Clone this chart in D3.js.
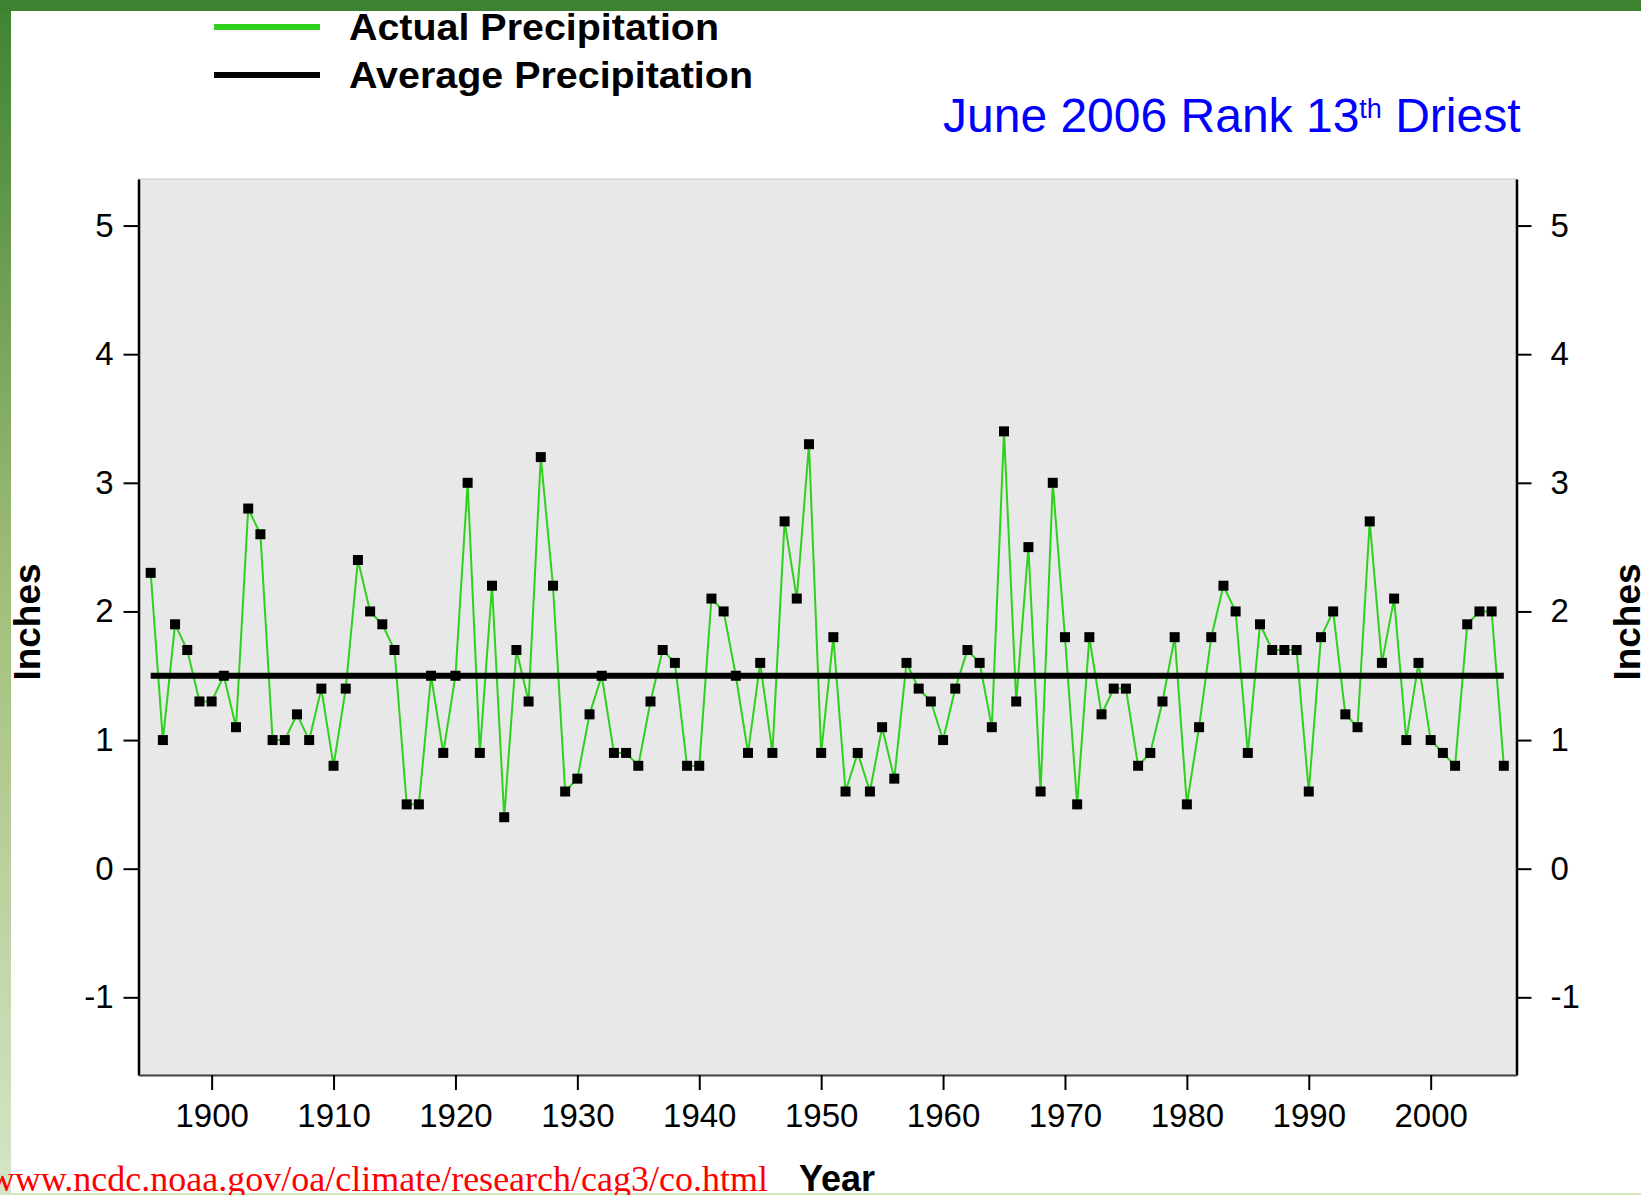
<!DOCTYPE html>
<html lang="en">
<head>
<meta charset="utf-8">
<script src="https://d3js.org/d3.v7.min.js"></script>
<style>
body { margin: 0; background: #fff; }
svg { display: block; }
</style>
</head>
<body>
<script>

// June precipitation, inches
var years = [1895,1896,1897,1898,1899,1900,1901,1902,1903,1904,
  1905,1906,1907,1908,1909,1910,1911,1912,1913,1914,
  1915,1916,1917,1918,1919,1920,1921,1922,1923,1924,
  1925,1926,1927,1928,1929,1930,1931,1932,1933,1934,
  1935,1936,1937,1938,1939,1940,1941,1942,1943,1944,
  1945,1946,1947,1948,1949,1950,1951,1952,1953,1954,
  1955,1956,1957,1958,1959,1960,1961,1962,1963,1964,
  1965,1966,1967,1968,1969,1970,1971,1972,1973,1974,
  1975,1976,1977,1978,1979,1980,1981,1982,1983,1984,
  1985,1986,1987,1988,1989,1990,1991,1992,1993,1994,
  1995,1996,1997,1998,1999,2000,2001,2002,2003,2004,
  2005,2006];

var precip = [2.3,1.0,1.9,1.7,1.3,1.3,1.5,1.1,2.8,2.6,
  1.0,1.0,1.2,1.0,1.4,0.8,1.4,2.4,2.0,1.9,
  1.7,0.5,0.5,1.5,0.9,1.5,3.0,0.9,2.2,0.4,
  1.7,1.3,3.2,2.2,0.6,0.7,1.2,1.5,0.9,0.9,
  0.8,1.3,1.7,1.6,0.8,0.8,2.1,2.0,1.5,0.9,
  1.6,0.9,2.7,2.1,3.3,0.9,1.8,0.6,0.9,0.6,
  1.1,0.7,1.6,1.4,1.3,1.0,1.4,1.7,1.6,1.1,
  3.4,1.3,2.5,0.6,3.0,1.8,0.5,1.8,1.2,1.4,
  1.4,0.8,0.9,1.3,1.8,0.5,1.1,1.8,2.2,2.0,
  0.9,1.9,1.7,1.7,1.7,0.6,1.8,2.0,1.2,1.1,
  2.7,1.6,2.1,1.0,1.6,1.0,0.9,0.8,1.9,2.0,
  2.0,0.8];

var average = 1.5;

var yTicks = [-1, 0, 1, 2, 3, 4, 5];
var xTicks = [1900, 1910, 1920, 1930, 1940, 1950, 1960, 1970, 1980, 1990, 2000];
var legendLabels = ["Actual Precipitation", "Average Precipitation"];
var legendColors = ["#2ed11e", "#000"];

var W = 1641, H = 1195;
var green = "#2ed11e";
var font = "'Liberation Sans', Arial, Helvetica, sans-serif";

var svg = d3.select("body").append("svg")
  .attr("width", W)
  .attr("height", H);

// page decoration: green bars
var defs = svg.append("defs");
var grad = defs.append("linearGradient")
  .attr("id", "sidebar")
  .attr("x1", 0).attr("y1", 0).attr("x2", 0).attr("y2", 1);
grad.append("stop").attr("offset", "0").attr("stop-color", "#3e8330");
grad.append("stop").attr("offset", "0.15").attr("stop-color", "#5c9447");
grad.append("stop").attr("offset", "0.5").attr("stop-color", "#a3bf7b");
grad.append("stop").attr("offset", "1").attr("stop-color", "#d6e5c7");

svg.append("rect").attr("width", W).attr("height", H).attr("fill", "#fff");
svg.append("rect").attr("x", 0).attr("y", 0).attr("width", 11).attr("height", H).attr("fill", "url(#sidebar)");
svg.append("rect").attr("x", 0).attr("y", 0).attr("width", W).attr("height", 11).attr("fill", "#3d8230");
svg.append("rect").attr("x", 0).attr("y", H - 2).attr("width", W).attr("height", 2).attr("fill", "#d3e6c0");

// scales (plot box edges)
var pLeft = 138.5, pRight = 1516.5, pTop = 179, pBottom = 1075;
var x = d3.scaleLinear().domain([1894, 2007.04]).range([pLeft, pRight]);
var y = d3.scaleLinear().domain([-1.604, 5.362]).range([pBottom, pTop]);

// plot panel
svg.append("rect")
  .attr("x", pLeft).attr("y", pTop)
  .attr("width", pRight - pLeft).attr("height", pBottom - pTop)
  .attr("fill", "#e8e8e8")
  .attr("stroke", "#c8c8c8")
  .attr("stroke-width", 1);

function styleAxis(g) {
  g.selectAll("path.domain").attr("stroke", "#000").attr("stroke-width", 2.5);
  g.selectAll(".tick line").attr("stroke", "#000").attr("stroke-width", 2);
  g.selectAll(".tick text")
    .attr("fill", "#000")
    .style("font-family", font)
    .style("font-size", "33px");
}

var yAxisL = svg.append("g")
  .attr("transform", "translate(" + pLeft + ",0)")
  .call(d3.axisLeft(y).tickValues(yTicks).tickSize(15).tickSizeOuter(0).tickPadding(10)
    .tickFormat(function(d) { return String(d); }));
styleAxis(yAxisL);

var yAxisR = svg.append("g")
  .attr("transform", "translate(" + pRight + ",0)")
  .call(d3.axisRight(y).tickValues(yTicks).tickSize(15).tickSizeOuter(0).tickPadding(19)
    .tickFormat(function(d) { return String(d); }));
styleAxis(yAxisR);

var xAxis = svg.append("g")
  .attr("transform", "translate(0," + pBottom + ")")
  .call(d3.axisBottom(x).tickValues(xTicks).tickSize(15).tickSizeOuter(0).tickPadding(14)
    .tickFormat(d3.format("d")));
styleAxis(xAxis);
xAxis.select("path.domain").attr("stroke", "#444").attr("stroke-width", 2);

// actual precipitation line
var pts = years.map(function(yr, i) { return {year: yr, v: precip[i]}; });

svg.append("path")
  .datum(pts)
  .attr("fill", "none")
  .attr("stroke", green)
  .attr("stroke-width", 2)
  .attr("d", d3.line().x(function(d) { return x(d.year); }).y(function(d) { return y(d.v); }));

// average line
svg.append("line")
  .attr("x1", x(years[0])).attr("x2", x(years[years.length - 1]))
  .attr("y1", y(average)).attr("y2", y(average))
  .attr("stroke", "#000")
  .attr("stroke-width", 6);

// markers
svg.selectAll("path.pt")
  .data(pts)
  .enter()
  .append("path")
  .attr("class", "pt")
  .attr("d", d3.symbol().type(d3.symbolSquare).size(100))
  .attr("fill", "#000")
  .attr("transform", function(d) { return "translate(" + x(d.year) + "," + y(d.v) + ")"; });

// legend
var legY = [27, 75];
var legW = [370, 404];
legendLabels.forEach(function(lab, i) {
  svg.append("line")
    .attr("x1", 214).attr("x2", 320)
    .attr("y1", legY[i]).attr("y2", legY[i])
    .attr("stroke", legendColors[i])
    .attr("stroke-width", 6);
  svg.append("text")
    .attr("x", 349).attr("y", legY[i] + 12.5)
    .attr("textLength", legW[i])
    .attr("lengthAdjust", "spacingAndGlyphs")
    .style("font-family", font)
    .style("font-weight", "bold")
    .style("font-size", "37px")
    .attr("fill", "#000")
    .text(lab);
});

// title
var t = svg.append("text")
  .attr("x", 943).attr("y", 131.5)
  .style("font-family", font)
  .style("font-size", "48px")
  .attr("fill", "#0000ff");
t.append("tspan").text("June 2006 Rank 13");
t.append("tspan").attr("dy", -14).style("font-size", "27px").text("th");
t.append("tspan").attr("dy", 14).text(" Driest");

// axis titles
svg.append("text")
  .attr("transform", "translate(40,622) rotate(-90)")
  .attr("text-anchor", "middle")
  .style("font-family", font)
  .style("font-weight", "bold")
  .style("font-size", "37px")
  .text("Inches");

svg.append("text")
  .attr("transform", "translate(1640,622) rotate(-90)")
  .attr("text-anchor", "middle")
  .style("font-family", font)
  .style("font-weight", "bold")
  .style("font-size", "37px")
  .text("Inches");

svg.append("text")
  .attr("x", 799).attr("y", 1191)
  .style("font-family", font)
  .style("font-weight", "bold")
  .style("font-size", "36px")
  .text("Year");

// source url
svg.append("text")
  .attr("x", 768).attr("y", 1191)
  .attr("text-anchor", "end")
  .style("font-family", "'Liberation Serif', 'Times New Roman', serif")
  .style("font-size", "36px")
  .attr("fill", "#ff0000")
  .text("www.ncdc.noaa.gov/oa/climate/research/cag3/co.html");

</script>
</body>
</html>
